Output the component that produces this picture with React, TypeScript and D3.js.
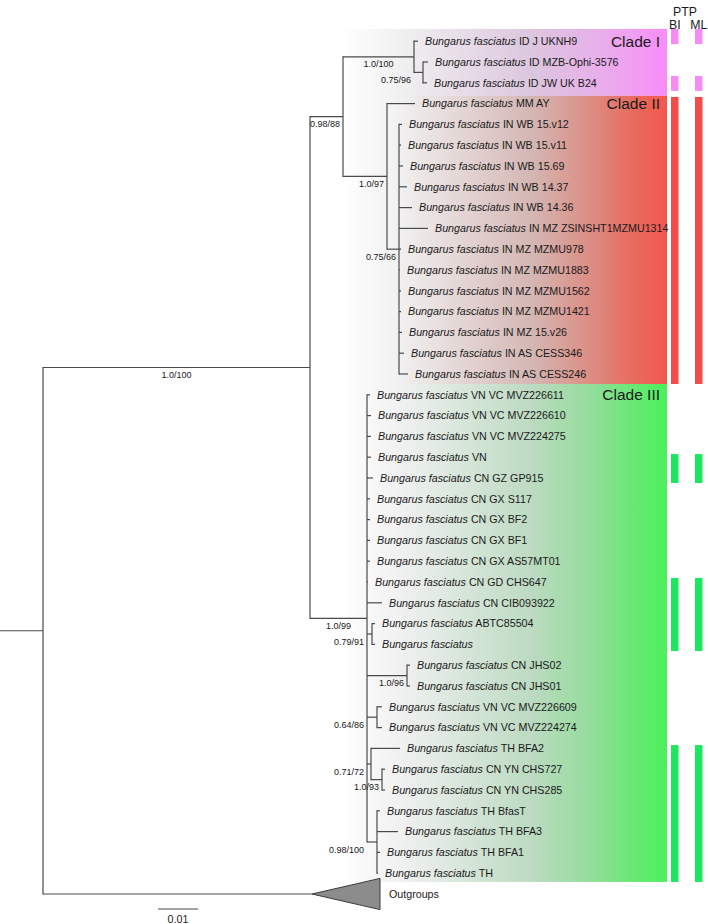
import React from "react";
import * as d3 from "d3";

const W = 708;
const H = 924;

// Tree in display order: [node id, parent id, branch length (substitutions/site)]
const branches: [string, string, number][] = [
  ["ingroup", "root", 0.06675],
  ["cladeI+II", "ingroup", 0.00825],
  ["cladeI", "cladeI+II", 0.01775],
  ["ID J UKNH9", "cladeI", 0.001],
  ["cladeI-a", "cladeI", 0.00225],
  ["ID MZB-Ophi-3576", "cladeI-a", 0.00125],
  ["ID JW UK B24", "cladeI-a", 0.001],
  ["cladeII", "cladeI+II", 0.011],
  ["MM AY", "cladeII", 0.007],
  ["cladeII-a", "cladeII", 0.003],
  ["IN WB 15.v12", "cladeII-a", 0.00075],
  ["IN WB 15.v11", "cladeII-a", 0.0005],
  ["IN WB 15.69", "cladeII-a", 0.001],
  ["IN WB 14.37", "cladeII-a", 0.002],
  ["IN WB 14.36", "cladeII-a", 0.00325],
  ["IN MZ ZSINSHT1MZMU1314", "cladeII-a", 0.00725],
  ["IN MZ MZMU978", "cladeII-a", 0.0005],
  ["IN MZ MZMU1883", "cladeII-a", 0.00025],
  ["IN MZ MZMU1562", "cladeII-a", 0.0005],
  ["IN MZ MZMU1421", "cladeII-a", 0.0005],
  ["IN MZ 15.v26", "cladeII-a", 0.00075],
  ["IN AS CESS346", "cladeII-a", 0.00125],
  ["IN AS CESS246", "cladeII-a", 0.00225],
  ["cladeIII", "ingroup", 0.01425],
  ["VN VC MVZ226611", "cladeIII", 0.00075],
  ["VN VC MVZ226610", "cladeIII", 0.001],
  ["VN VC MVZ224275", "cladeIII", 0.001],
  ["VN", "cladeIII", 0.001],
  ["CN GZ GP915", "cladeIII", 0.0015],
  ["CN GX S117", "cladeIII", 0.00075],
  ["CN GX BF2", "cladeIII", 0.00075],
  ["CN GX BF1", "cladeIII", 0.00075],
  ["CN GX AS57MT01", "cladeIII", 0.00075],
  ["CN GD CHS647", "cladeIII", 0.00025],
  ["CN CIB093922", "cladeIII", 0.00375],
  ["cladeIII-abtc", "cladeIII", 0.00125],
  ["ABTC85504", "cladeIII-abtc", 0.00075],
  ["(no locality)", "cladeIII-abtc", 0.00075],
  ["cladeIII-jhs", "cladeIII", 0.01],
  ["CN JHS02", "cladeIII-jhs", 0.00075],
  ["CN JHS01", "cladeIII-jhs", 0.00075],
  ["cladeIII-mvz", "cladeIII", 0.0025],
  ["VN VC MVZ226609", "cladeIII-mvz", 0.00125],
  ["VN VC MVZ224274", "cladeIII-mvz", 0.00125],
  ["cladeIII-bfa2", "cladeIII", 0.001],
  ["TH BFA2", "cladeIII-bfa2", 0.00725],
  ["cladeIII-chs", "cladeIII-bfa2", 0.00275],
  ["CN YN CHS727", "cladeIII-chs", 0.00075],
  ["CN YN CHS285", "cladeIII-chs", 0.00075],
  ["cladeIII-th", "cladeIII", 0.0025],
  ["TH BfasT", "cladeIII-th", 0.00075],
  ["TH BFA3", "cladeIII-th", 0.00525],
  ["TH BFA1", "cladeIII-th", 0.00075],
  ["TH", "cladeIII-th", 0.00025],
  ["Outgroups", "root", 0.06725],
];

// Depth of the collapsed outgroup triangle (subs/site)
const outgroupDepth = 0.017;
const collapsedTaxa = ["Outgroups"];

// Posterior probability / bootstrap support
const supports: [string, string][] = [
  ["ingroup", "1.0/100"],
  ["cladeI+II", "0.98/88"],
  ["cladeI", "1.0/100"],
  ["cladeI-a", "0.75/96"],
  ["cladeII", "1.0/97"],
  ["cladeII-a", "0.75/66"],
  ["cladeIII", "1.0/99"],
  ["cladeIII-abtc", "0.79/91"],
  ["cladeIII-jhs", "1.0/96"],
  ["cladeIII-mvz", "0.64/86"],
  ["cladeIII-bfa2", "0.71/72"],
  ["cladeIII-chs", "1.0/93"],
  ["cladeIII-th", "0.98/100"],
];

// Clades: name, extent in leaf-row units [from, to]
const cladeNames = ["Clade I", "Clade II", "Clade III"];
const cladeFirstLeaf = [0, 3, 17];
const cladeExtents: [number, number][] = [
  [-0.59, 2.63],
  [2.63, 16.48],
  [16.48, 40.42],
];

// PTP species delimitation bars: [from row, to row, clade index]
const ptpColumns = ["BI", "ML"];
const ptpBI: [number, number, number][] = [
  [-0.59, 0.14, 0],
  [1.67, 2.39, 0],
  [2.68, 16.48, 1],
  [19.85, 21.24, 2],
  [25.81, 29.32, 2],
  [33.84, 40.42, 2],
];
const ptpML: [number, number, number][] = [
  [-0.59, 0.14, 0],
  [1.67, 2.39, 0],
  [2.68, 16.48, 1],
  [19.85, 21.24, 2],
  [25.81, 29.32, 2],
  [33.84, 40.42, 2],
];

const scaleBarValue = 0.01;
const genus = "Bungarus fasciatus";

// ---- styles ----
const FONT = "'Liberation Sans', Arial, Helvetica, sans-serif";
const LINE = "#4a4a4a";
const TEXT = "#1a1a1a";
const cladeGradStops = [
  [
    [0, "#ffffff"],
    [0.18, "#f1f1f1"],
    [0.59, "#dcc6de"],
    [0.76, "#e6b3e8"],
    [0.9, "#f19ef2"],
    [1, "#f78cf7"],
  ],
  [
    [0, "#ffffff"],
    [0.18, "#f1f1f1"],
    [0.59, "#d4b6b3"],
    [0.76, "#dc8e85"],
    [0.9, "#e86a5e"],
    [1, "#f4574c"],
  ],
  [
    [0, "#ffffff"],
    [0.18, "#f1f1f1"],
    [0.59, "#bcdac1"],
    [0.76, "#96dc9d"],
    [0.9, "#68e874"],
    [1, "#4cf05a"],
  ],
];
const ptpColors = ["#f58cf4", "#f44b4b", "#1de65f"];

export default function App() {
  const rows = [{ id: "root", parentId: null as string | null, len: 0 }].concat(
    branches.map(([id, parentId, len]) => ({ id, parentId, len }))
  );
  const root = d3
    .stratify<{ id: string; parentId: string | null; len: number }>()
    .id((d) => d.id)
    .parentId((d) => d.parentId)(rows);

  const xScale = d3.scaleLinear().domain([0, scaleBarValue]).range([43, 83]);
  const leaves = root.leaves();
  const yScale = d3.scaleLinear().domain([0, leaves.length - 1]).range([41.2, 894]);

  const depth = new Map<string, number>();
  root.eachBefore((n: any) => {
    depth.set(n.id, n.parent ? depth.get(n.parent.id)! + n.data.len : 0);
  });
  const pos = new Map<string, { x: number; y: number }>();
  leaves.forEach((l: any, i: number) => pos.set(l.id, { x: xScale(depth.get(l.id)!), y: yScale(i) }));
  root.eachAfter((n: any) => {
    if (n.children) {
      const a = pos.get(n.children[0].id)!;
      const b = pos.get(n.children[n.children.length - 1].id)!;
      pos.set(n.id, { x: xScale(depth.get(n.id)!), y: (a.y + b.y) / 2 });
    }
  });

  const nodes = root.descendants();
  const rowStep = yScale(1) - yScale(0);
  const gradX0 = 340;
  const gradX1 = 667;
  const colX = [671, 695];
  const colW = 7.5;

  const supportMap = new Map(supports);

  return (
    <svg
      width={W}
      height={H}
      viewBox={`0 0 ${W} ${H}`}
      style={{ position: "absolute", left: 0, top: 0, background: "#fff" }}
      fontFamily={FONT}
    >
      <defs>
        {cladeGradStops.map((stops, i) => (
          <linearGradient
            key={i}
            id={`clade-grad-${i}`}
            gradientUnits="userSpaceOnUse"
            x1={gradX0}
            x2={gradX1}
            y1={0}
            y2={0}
          >
            {stops.map(([o, c], j) => (
              <stop key={j} offset={o as number} stopColor={c as string} />
            ))}
          </linearGradient>
        ))}
      </defs>
      <rect x={0} y={0} width={W} height={H} fill="#fff" />

      {/* clade backgrounds */}
      {cladeExtents.map(([a, b], i) => {
        const top = yScale(a);
        const bottom = yScale(b);
        return (
          <g key={i}>
            <rect x={gradX0} y={top} width={gradX1 - gradX0} height={bottom - top} fill={`url(#clade-grad-${i})`} />
            <text
              x={660}
              y={yScale(cladeFirstLeaf[i])}
              dy="0.35em"
              textAnchor="end"
              fontSize={15.5}
              fill={TEXT}
            >
              {cladeNames[i]}
            </text>
          </g>
        );
      })}

      {/* PTP columns */}
      <text x={685} y={16} textAnchor="middle" fontSize={12.3} fill={TEXT}>
        PTP
      </text>
      {ptpColumns.map((c, i) => (
        <text key={c} x={colX[i] + colW / 2} y={28.5} textAnchor="middle" fontSize={12.3} fill={TEXT}>
          {c}
        </text>
      ))}
      {[ptpBI, ptpML].map((bars, ci) =>
        bars.map(([a, b, cl], k) => {
          const top = yScale(a);
          const bottom = yScale(b);
          return (
            <rect
              key={`${ci}-${k}`}
              x={colX[ci]}
              y={top}
              width={colW}
              height={bottom - top}
              fill={ptpColors[cl]}
            />
          );
        })
      )}

      {/* root stub */}
      <line x1={0} x2={pos.get("root")!.x} y1={pos.get("root")!.y} y2={pos.get("root")!.y} stroke={LINE} strokeWidth={1.2} />

      {/* branches */}
      {nodes.map((n: any) => {
        const p = pos.get(n.id)!;
        const els: any[] = [];
        if (n.parent) {
          const pp = pos.get(n.parent.id)!;
          els.push(
            <line key="h" x1={pp.x} x2={p.x} y1={p.y} y2={p.y} stroke={LINE} strokeWidth={1.2} />
          );
        }
        if (n.children) {
          const a = pos.get(n.children[0].id)!;
          const b = pos.get(n.children[n.children.length - 1].id)!;
          els.push(
            <line key="v" x1={p.x} x2={p.x} y1={a.y - 0.6} y2={b.y + 0.6} stroke={LINE} strokeWidth={1.2} />
          );
        }
        return <g key={n.id}>{els}</g>;
      })}

      {/* support values */}
      {nodes
        .filter((n: any) => supportMap.has(n.id))
        .map((n: any) => {
          const p = pos.get(n.id)!;
          const pp = pos.get(n.parent.id)!;
          const len = p.x - pp.x;
          let x: number;
          let anchor: "middle" | "end";
          if (len >= 50) {
            x = (p.x + pp.x) / 2;
            anchor = "middle";
          } else if (len < 10.5) {
            x = pp.x - 3;
            anchor = "end";
          } else {
            x = p.x - 3;
            anchor = "end";
          }
          return (
            <text key={n.id} x={x} y={p.y + 10.5} textAnchor={anchor} fontSize={9} fill={TEXT}>
              {supportMap.get(n.id)}
            </text>
          );
        })}

      {/* leaves */}
      {leaves.map((l: any) => {
        const p = pos.get(l.id)!;
        if (collapsedTaxa.includes(l.id)) {
          const x2 = xScale(depth.get(l.id)! + outgroupDepth);
          const half = rowStep * 0.75;
          return (
            <g key={l.id}>
              <path
                d={`M${p.x},${p.y}L${x2},${p.y - half}L${x2},${p.y + half}Z`}
                fill="#8c8c8c"
                stroke="#3a3a3a"
                strokeWidth={1}
              />
              <text x={x2 + 9} y={p.y} dy="0.35em" fontSize={10.7} fill={TEXT}>
                {l.id}
              </text>
            </g>
          );
        }
        const suffix = l.id.startsWith("(") ? "" : " " + l.id;
        return (
          <text key={l.id} x={p.x + 7} y={p.y} dy="0.35em" fontSize={10.7} fill={TEXT}>
            <tspan fontStyle="italic">{genus}</tspan>
            {suffix}
          </text>
        );
      })}

      {/* scale bar */}
      <line x1={158} x2={158 + xScale(scaleBarValue) - xScale(0)} y1={909} y2={909} stroke={LINE} strokeWidth={1.2} />
      <text x={158 + (xScale(scaleBarValue) - xScale(0)) / 2} y={922.5} textAnchor="middle" fontSize={10.7} fill={TEXT}>
        {scaleBarValue}
      </text>
    </svg>
  );
}
